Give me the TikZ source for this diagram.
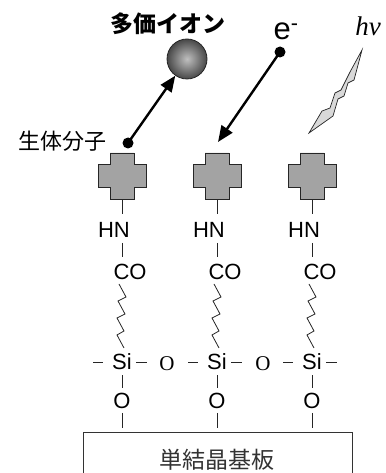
\documentclass[tikz,border=0pt]{standalone}
\usepackage{fontspec}
\setmainfont{Liberation Sans}
\newfontfamily\jp{Noto Sans CJK JP}
\newfontfamily\timesfont{Liberation Serif}
\usetikzlibrary{arrows.meta,shadings}

\tikzset{
  biomol/.pic={
    \draw[crossbox] (-12,-23) -- (12,-23) -- (12,-11.5) -- (24,-11.5) -- (24,11.5)
      -- (12,11.5) -- (12,23) -- (-12,23) -- (-12,11.5) -- (-24,11.5) -- (-24,-11.5)
      -- (-12,-11.5) -- cycle;
    \coordinate (-bot) at (0,23);
  }
}

\begin{document}
\begin{tikzpicture}[x=1pt,y=-1pt,
  chem/.style={font=\fontsize{22}{22}\selectfont, inner sep=0pt},
  bridge/.style={font=\timesfont\fontsize{21}{21}\selectfont, inner sep=0pt},
  bondline/.style={line width=0.8pt, draw=black!85},
  crossbox/.style={fill=black!36, draw=black!85, line width=0.9pt},
  dotnode/.style={circle, fill=black, inner sep=0pt, minimum size=11pt},
  probe/.style={line width=2.4pt, -{Triangle[length=16pt,width=13pt]}},
  jplabel/.style={font=\jp\fontsize{22}{22}\selectfont, inner sep=0pt}
]
\useasboundingbox (0,0) rectangle (385,473);

% substrate
\node[draw=black!80, line width=0.9pt, minimum width=269pt, minimum height=46pt,
      anchor=north west, inner sep=0pt] (sub) at (83,432) {};
\node[jplabel, text=black!80, font=\jp\fontsize{23}{23}\selectfont] (sublabel) at (217,460) {単結晶基板};

% three anchored molecules
\foreach \i/\x in {1/122,2/217,3/312}{
  \coordinate (col\i) at (\x,0);
  \pic (mol\i) at (\x,176) {biomol};
  \node[chem] (hn\i) at (\x-8,230) {HN};
  \node[chem] (co\i) at (\x+8,272) {CO};
  \node[chem] (si\i) at (\x,362) {Si};
  \node[chem] (ox\i) at (\x,401) {O};
  \draw[bondline, shorten >=8pt] (mol\i-bot) -- (hn\i.north -| col\i);
  \draw[bondline, shorten <=5pt, shorten >=7pt] (hn\i.south -| col\i) -- (co\i.north -| col\i);
  \draw[bondline] (co\i.south -| col\i) ++(-3,4) -- ++(7,13) -- ++(-8,4) -- ++(7,13)
    -- ++(-8,4) -- ++(7,13) -- ++(-7,4) -- ++(7,13);
  \draw[bondline, shorten <=5pt, shorten >=5.5pt] (si\i.south -| col\i) -- (ox\i.north -| col\i);
  \draw[bondline, shorten <=4pt, shorten >=4pt] (ox\i.south -| col\i) -- (sub.north -| col\i);
  \draw[bondline] ([xshift=-29pt]si\i.center) -- ([xshift=-19pt]si\i.center);
  \draw[bondline] ([xshift=14pt]si\i.center) -- ([xshift=25pt]si\i.center);
}

% siloxane bridges
\node[bridge] (br1) at (167,364) {O};
\node[bridge] (br2) at (263,364) {O};

% multiply charged ion
\node[circle, minimum size=40pt, inner sep=0pt, draw=black!85, line width=0.8pt,
      shading=radial, inner color=black!25, outer color=black!72] (ion) at (187,59) {};
\node[jplabel, font=\jp\bfseries\fontsize{23}{23}\selectfont] (ionlabel) at (167.5,24) {多価イオン};
\node[dotnode] (d1) at (128,143) {};
\draw[probe] (d1.center) -- (ion);
\node[jplabel] (biolabel) at (62,141) {生体分子};

% electron
\node[anchor=base west, inner sep=0pt, font=\fontsize{31}{31}\selectfont] (elabel) at (273.5,40) {e\textsuperscript{-}};
\node[dotnode] (d2) at (280,52) {};
\coordinate (hit) at (218,142);
\draw[probe] (d2.center) -- (hit);

% photon
\node[inner sep=0pt, font=\timesfont\itshape\fontsize{27}{27}\selectfont] (hvlabel) at (368,26) {hν};
\draw[fill=black!15, draw=black!85, line width=0.7pt]
  (362,50) -- (354,80) -- (348,83) -- (344,96) -- (338,99) -- (333,116) -- (309,133)
  -- (322,111) -- (330,108) -- (335,93) -- (341,90) -- (350,72) -- cycle;
\end{tikzpicture}
\end{document}
